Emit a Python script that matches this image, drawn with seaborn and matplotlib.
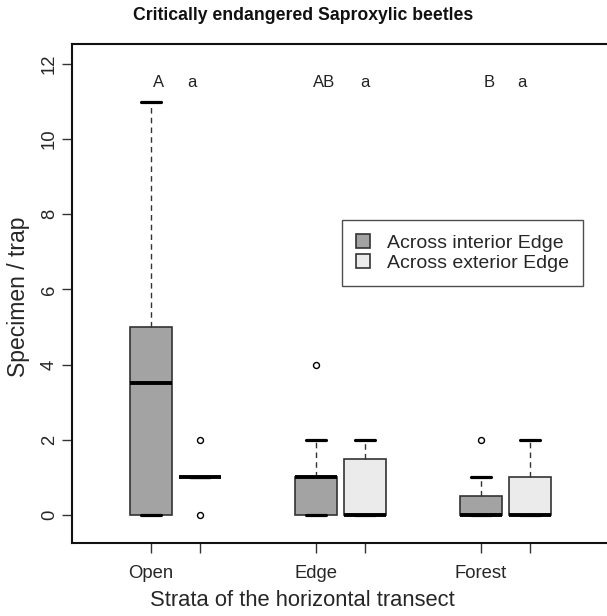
import numpy as np
import pandas as pd
import seaborn as sns
import matplotlib.pyplot as plt
from matplotlib.ticker import FixedLocator

# ---- data ----
strata = ["Open", "Edge", "Forest"]
edges = ["Across interior Edge", "Across exterior Edge"]

open_interior = [0, 0, 0, 3, 4, 5, 5, 11]
open_exterior = [0, 1, 1, 1, 1, 1, 1, 2]
edge_interior = [0, 0, 0, 1, 1, 1, 1, 2, 4]
edge_exterior = [0, 0, 0, 0, 1, 2, 2]
forest_interior = [0, 0, 0, 0, 0, 1, 2]
forest_exterior = [0, 0, 0, 0, 0, 1, 1, 2]

group_letters = ["A", "AB", "B"]
edge_letters = ["a", "a", "a"]
letter_y = 11.5

yticks = [0, 2, 4, 6, 8, 10, 12]

series = {
    ("Open", edges[0]): open_interior,
    ("Open", edges[1]): open_exterior,
    ("Edge", edges[0]): edge_interior,
    ("Edge", edges[1]): edge_exterior,
    ("Forest", edges[0]): forest_interior,
    ("Forest", edges[1]): forest_exterior,
}
rows = []
for (s, e), vals in series.items():
    for v in vals:
        rows.append({"strata": s, "edge": e, "value": v})
df = pd.DataFrame(rows)

# ---- style ----
sns.set_style("ticks")
plt.rcParams["font.family"] = ["Liberation Sans", "DejaVu Sans"]

W, H = 607, 616
fig = plt.figure(figsize=(W / 100, H / 100), dpi=100)
left, right, top, bottom = 72, 607, 44, 543
ax = fig.add_axes([left / W, (H - bottom) / H, (right - left) / W, (bottom - top) / H])

off = 0.148
sns.boxplot(
    data=df, x="strata", y="value", hue="edge",
    order=strata, hue_order=edges,
    palette=["#a3a3a3", "#ebebeb"],
    width=0.594, gap=0.16, whis=2.0,
    linecolor="#333333", linewidth=1.2,
    fliersize=4.3,
    flierprops=dict(marker="o", markerfacecolor="white", markeredgecolor="black", markeredgewidth=1.0),
    medianprops=dict(color="black", linewidth=2.8),
    whiskerprops=dict(color="#333333", linestyle=(0, (4, 3)), linewidth=1.0),
    capprops=dict(color="black", linewidth=2.3),
    ax=ax,
)

ax.set_xlim(-0.627, 2.615)
ax.set_ylim(-0.745, 12.53)

# letters
for i in range(len(strata)):
    ax.text(i - 0.1, letter_y, group_letters[i], ha="center", va="center", fontsize=12, color="#222222")
    ax.text(i + (0.148 if i == 1 else 0.1), letter_y, edge_letters[i], ha="center", va="center", fontsize=12, color="#222222")

# ticks
pos = np.arange(len(strata))
ax.xaxis.set_major_locator(FixedLocator(pos - off))
ax.set_xticklabels(strata)
ax.xaxis.set_minor_locator(FixedLocator(pos + off))
ax.tick_params(axis="x", which="both", length=7, width=1.0, color="#333333", labelsize=13.3, pad=9)
ax.set_yticks(yticks)
ax.set_yticklabels([str(t) for t in yticks], rotation=90, va="center")
ax.tick_params(axis="y", length=7, width=1.0, color="#333333", labelsize=13.3, pad=3)

for s in ["left", "bottom", "top"]:
    ax.spines[s].set_visible(True)
    ax.spines[s].set_linewidth(1.5)
    ax.spines[s].set_color("#111111")
ax.spines["right"].set_visible(False)

ax.set_xlabel("Strata of the horizontal transect", fontsize=15.8)
ax.set_ylabel("Specimen / trap", fontsize=16.5)
ax.xaxis.set_label_coords((302 - left) / (right - left), -(600 - bottom) / (bottom - top))
ax.yaxis.set_label_coords(-(left - 19) / (right - left), (bottom - 297) / (bottom - top))
ax.xaxis.label.set_va("center")
ax.yaxis.label.set_va("center")

handles, labels = ax.get_legend_handles_labels()
leg = ax.legend(handles, labels, loc="upper left", bbox_to_anchor=(0.505, 0.647),
                borderaxespad=0, frameon=True, fancybox=False, edgecolor="#222222",
                fontsize=14, handlelength=0.72, handleheight=0.72, handletextpad=0.85,
                borderpad=0.72, labelspacing=0.1)
leg.get_frame().set_linewidth(1.0)

fig.text(0.5, 1 - 15 / H, "Critically endangered Saproxylic beetles", ha="center", va="center",
         fontsize=12.7, fontweight="bold", color="#111111")

fig.savefig("out.png", dpi=100)
